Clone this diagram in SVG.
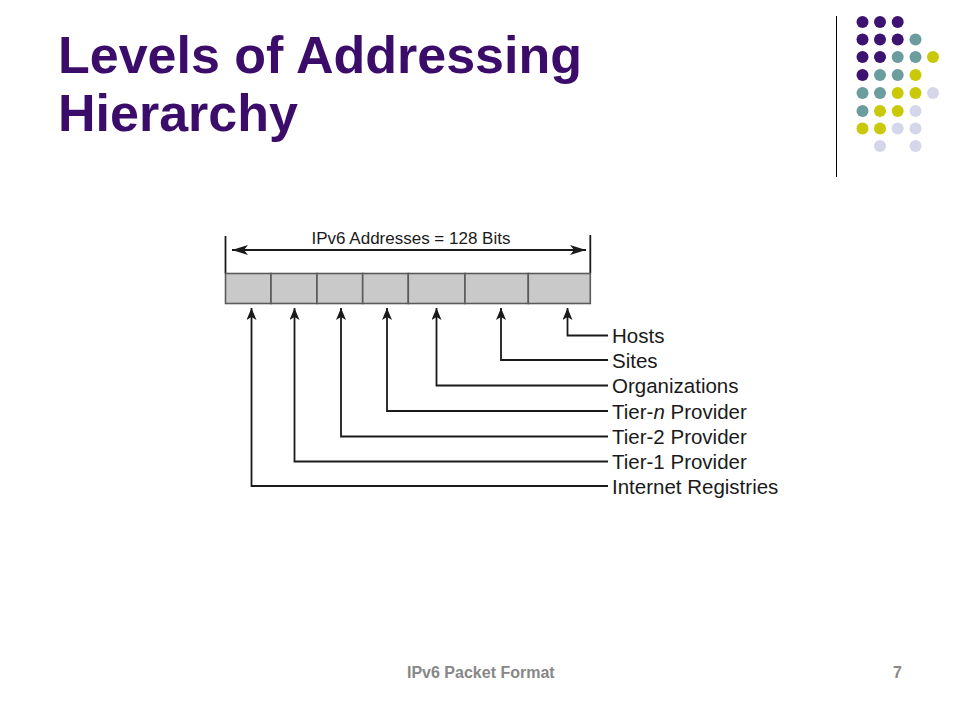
<svg xmlns="http://www.w3.org/2000/svg" width="960" height="720" viewBox="0 0 960 720">
<defs>
<style>
.title{font-family:"Liberation Sans",Arial,sans-serif;font-weight:bold;font-size:52px;fill:#3b0c69}
.foot{font-family:"Liberation Sans",Arial,sans-serif;font-weight:bold;font-size:16px;fill:#878787}
.lbl{font-family:"Liberation Sans",Arial,sans-serif;font-size:20.5px;fill:#1a1a1a}
.hdr{font-family:"Liberation Sans",Arial,sans-serif;font-size:17px;fill:#1a1a1a}
.cell{fill:#c9c9c9;stroke:#5a5a5a;stroke-width:1.6}
.ln{fill:none;stroke:#1a1a1a;stroke-width:1.8}
.p{fill:#3d1270}.t{fill:#6b9c9e}.y{fill:#c9c90a}.l{fill:#d6d6ea}
</style>
<marker id="up" viewBox="0 0 12 10" refX="12" refY="5" markerWidth="12" markerHeight="10" markerUnits="userSpaceOnUse" orient="auto">
<path d="M0,0 L12,5 L0,10 L3,5 Z" fill="#1a1a1a"/>
</marker>
<marker id="ah" viewBox="0 0 16 10" refX="16" refY="5" markerWidth="16" markerHeight="10" markerUnits="userSpaceOnUse" orient="auto-start-reverse">
<path d="M0,0 L16,5 L0,10 L4,5 Z" fill="#1a1a1a"/>
</marker>
</defs>
<rect width="960" height="720" fill="#ffffff"/>

<g id="title">
<text class="title" x="58" y="73">Levels of Addressing</text>
<text class="title" x="58" y="131">Hierarchy</text>
</g>

<g id="decor">
<line x1="836.5" y1="16" x2="836.5" y2="177" stroke="#000" stroke-width="1"/>
<circle class="p" cx="862.5" cy="22" r="6"/><circle class="p" cx="880" cy="22" r="6"/><circle class="p" cx="897.7" cy="22" r="6"/>
<circle class="p" cx="862.5" cy="39.5" r="6"/><circle class="p" cx="880" cy="39.5" r="6"/><circle class="p" cx="897.7" cy="39.5" r="6"/><circle class="t" cx="915.5" cy="39.5" r="6"/>
<circle class="p" cx="862.5" cy="57" r="6"/><circle class="p" cx="880" cy="57" r="6"/><circle class="t" cx="897.7" cy="57" r="6"/><circle class="t" cx="915.5" cy="57" r="6"/><circle class="y" cx="933" cy="57" r="6"/>
<circle class="p" cx="862.5" cy="75" r="6"/><circle class="t" cx="880" cy="75" r="6"/><circle class="t" cx="897.7" cy="75" r="6"/><circle class="y" cx="915.5" cy="75" r="6"/>
<circle class="t" cx="862.5" cy="93" r="6"/><circle class="t" cx="880" cy="93" r="6"/><circle class="y" cx="897.7" cy="93" r="6"/><circle class="y" cx="915.5" cy="93" r="6"/><circle class="l" cx="933" cy="93" r="6"/>
<circle class="t" cx="862.5" cy="111" r="6"/><circle class="y" cx="880" cy="111" r="6"/><circle class="y" cx="897.7" cy="111" r="6"/><circle class="l" cx="915.5" cy="111" r="6"/>
<circle class="y" cx="862.5" cy="128.5" r="6"/><circle class="y" cx="880" cy="128.5" r="6"/><circle class="l" cx="897.7" cy="128.5" r="6"/><circle class="l" cx="915.5" cy="128.5" r="6"/>
<circle class="l" cx="880" cy="146" r="6"/><circle class="l" cx="915.5" cy="146" r="6"/>
</g>

<g id="address-bar">
<line class="ln" x1="225.5" y1="236" x2="225.5" y2="273.5"/>
<line class="ln" x1="590.3" y1="235" x2="590.3" y2="273.5"/>
<line class="ln" x1="232" y1="250" x2="586" y2="250" marker-start="url(#ah)" marker-end="url(#ah)"/>
<text class="hdr" x="411" y="244.3" text-anchor="middle">IPv6 Addresses = 128 Bits</text>
<rect class="cell" x="225.5" y="273.5" width="45.5" height="30"/>
<rect class="cell" x="271" y="273.5" width="46" height="30"/>
<rect class="cell" x="317" y="273.5" width="45.7" height="30"/>
<rect class="cell" x="362.7" y="273.5" width="45.6" height="30"/>
<rect class="cell" x="408.3" y="273.5" width="56.7" height="30"/>
<rect class="cell" x="465" y="273.5" width="63.3" height="30"/>
<rect class="cell" x="528.3" y="273.5" width="62" height="30"/>
</g>

<g id="connectors">
<polyline class="ln" points="608,335.5 567.5,335.5 567.5,308" marker-end="url(#up)"/>
<polyline class="ln" points="608,360 501,360 501,308" marker-end="url(#up)"/>
<polyline class="ln" points="608,385.5 436.5,385.5 436.5,308" marker-end="url(#up)"/>
<polyline class="ln" points="608,411 387,411 387,308" marker-end="url(#up)"/>
<polyline class="ln" points="608,436.5 341,436.5 341,308" marker-end="url(#up)"/>
<polyline class="ln" points="608,461.5 294.5,461.5 294.5,308" marker-end="url(#up)"/>
<polyline class="ln" points="608,486 251.5,486 251.5,308" marker-end="url(#up)"/>
</g>

<g id="labels">
<text class="lbl" x="612" y="343">Hosts</text>
<text class="lbl" x="612" y="367.5">Sites</text>
<text class="lbl" x="612" y="393">Organizations</text>
<text class="lbl" x="612" y="418.5">Tier-<tspan font-style="italic">n</tspan> Provider</text>
<text class="lbl" x="612" y="444">Tier-2 Provider</text>
<text class="lbl" x="612" y="469">Tier-1 Provider</text>
<text class="lbl" x="612" y="493.5">Internet Registries</text>
</g>

<g id="footer">
<text class="foot" x="407" y="678">IPv6 Packet Format</text>
<text class="foot" x="902" y="678" text-anchor="end">7</text>
</g>
</svg>
